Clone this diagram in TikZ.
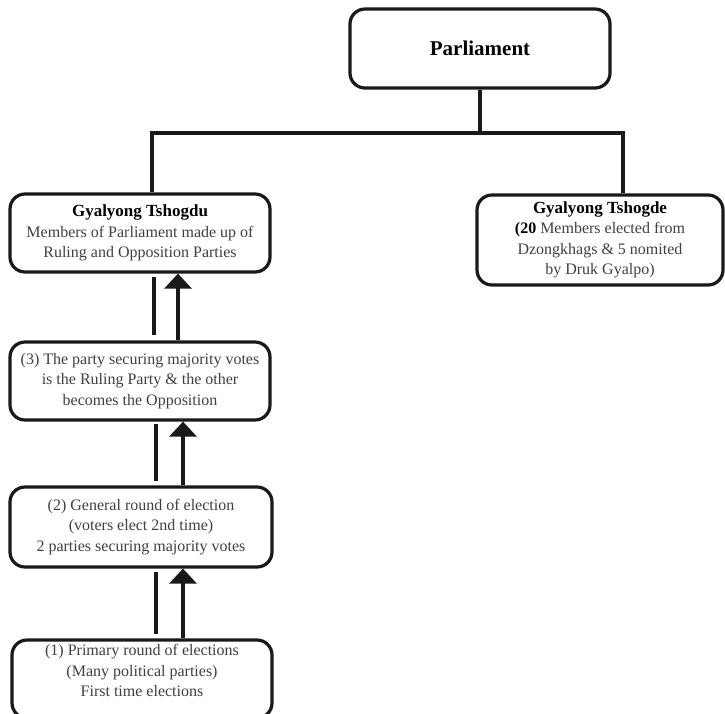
\documentclass[tikz,border=0pt]{standalone}
\usepackage{fontspec}
\setmainfont{Liberation Serif}
\usepackage{tikz}
\usetikzlibrary{positioning,calc,arrows.meta}
\tikzset{
  box/.style      = {draw=black!90, rounded corners=15pt, fill=white, line width=3.2pt,
                     align=center, inner sep=2pt, text=black!75,
                     font=\fontsize{16}{20.5}\selectfont},
  topbox/.style   = {box, text=black, font=\fontsize{21}{25}\selectfont\bfseries},
  link/.style     = {draw=black!90, line width=3.2pt},
  uparrow/.style  = {link, -{Triangle[width=27pt,length=15pt]}},
}

\begin{document}
\begin{tikzpicture}[x=1pt,y=-1pt]
  \useasboundingbox (0,0) rectangle (725,713);

  % top
  \node[topbox, minimum width=260pt, minimum height=79pt] (parl) at (480,48.5) {Parliament};

  % houses
  \node[box, minimum width=260pt, minimum height=78pt] (tshogdu) at (140,233)
    {{\fontsize{17}{20.5}\selectfont\bfseries\color{black}Gyalyong Tshogdu}\\
     Members of Parliament made up of\\ Ruling and Opposition Parties};
  \node[box, minimum width=246pt, minimum height=90pt] (tshogde) at (600,240)
    {{\fontsize{17}{20.5}\selectfont\bfseries\color{black}Gyalyong Tshogde}\\
     {\bfseries\color{black}(20} Members elected from\\ Dzongkhags \& 5 nomited\\ by Druk Gyalpo)};

  % election steps
  \node[box, minimum width=260pt, minimum height=78pt] (step3) at (140,381)
    {(3) The party securing majority votes\\ is the Ruling Party \& the other\\ becomes the Opposition};
  \node[box, minimum width=262pt, minimum height=80pt] (step2) at (141,527)
    {(2) General round of election\\ (voters elect 2nd time)\\ 2 parties securing majority votes};
  \node[box, minimum width=260pt, minimum height=78pt] (step1) at (142,679)
    {(1) Primary round of elections\\ (Many political parties)\\ First time elections\\[-4pt]\mbox{}};

  % tree
  \coordinate (busL) at (152,133);
  \coordinate (busR) at (623,133);
  \draw[link] (parl.south) -- (parl.south |- busL);
  \draw[link] (busL |- tshogdu.north) |- (busR) -- (busR |- tshogde.north);

  % up the steps
  \draw[link, shorten <=3pt, shorten >=5pt] ([xshift=14pt]tshogdu.south) -- ([xshift=14pt]tshogdu.south |- step3.north);
  \draw[uparrow] ([xshift=38pt]tshogdu.south |- step3.north) -- ([xshift=38pt]tshogdu.south);
  \draw[link, shorten <=2pt, shorten >=4pt] ([xshift=16pt]step3.south) -- ([xshift=16pt]step3.south |- step2.north);
  \draw[uparrow] ([xshift=43pt]step3.south |- step2.north) -- ([xshift=43pt]step3.south);
  \draw[link, shorten <=3pt, shorten >=4pt] ([xshift=15pt]step2.south) -- ([xshift=15pt]step2.south |- step1.north);
  \draw[uparrow] ([xshift=42pt]step2.south |- step1.north) -- ([xshift=42pt]step2.south);
\end{tikzpicture}
\end{document}
